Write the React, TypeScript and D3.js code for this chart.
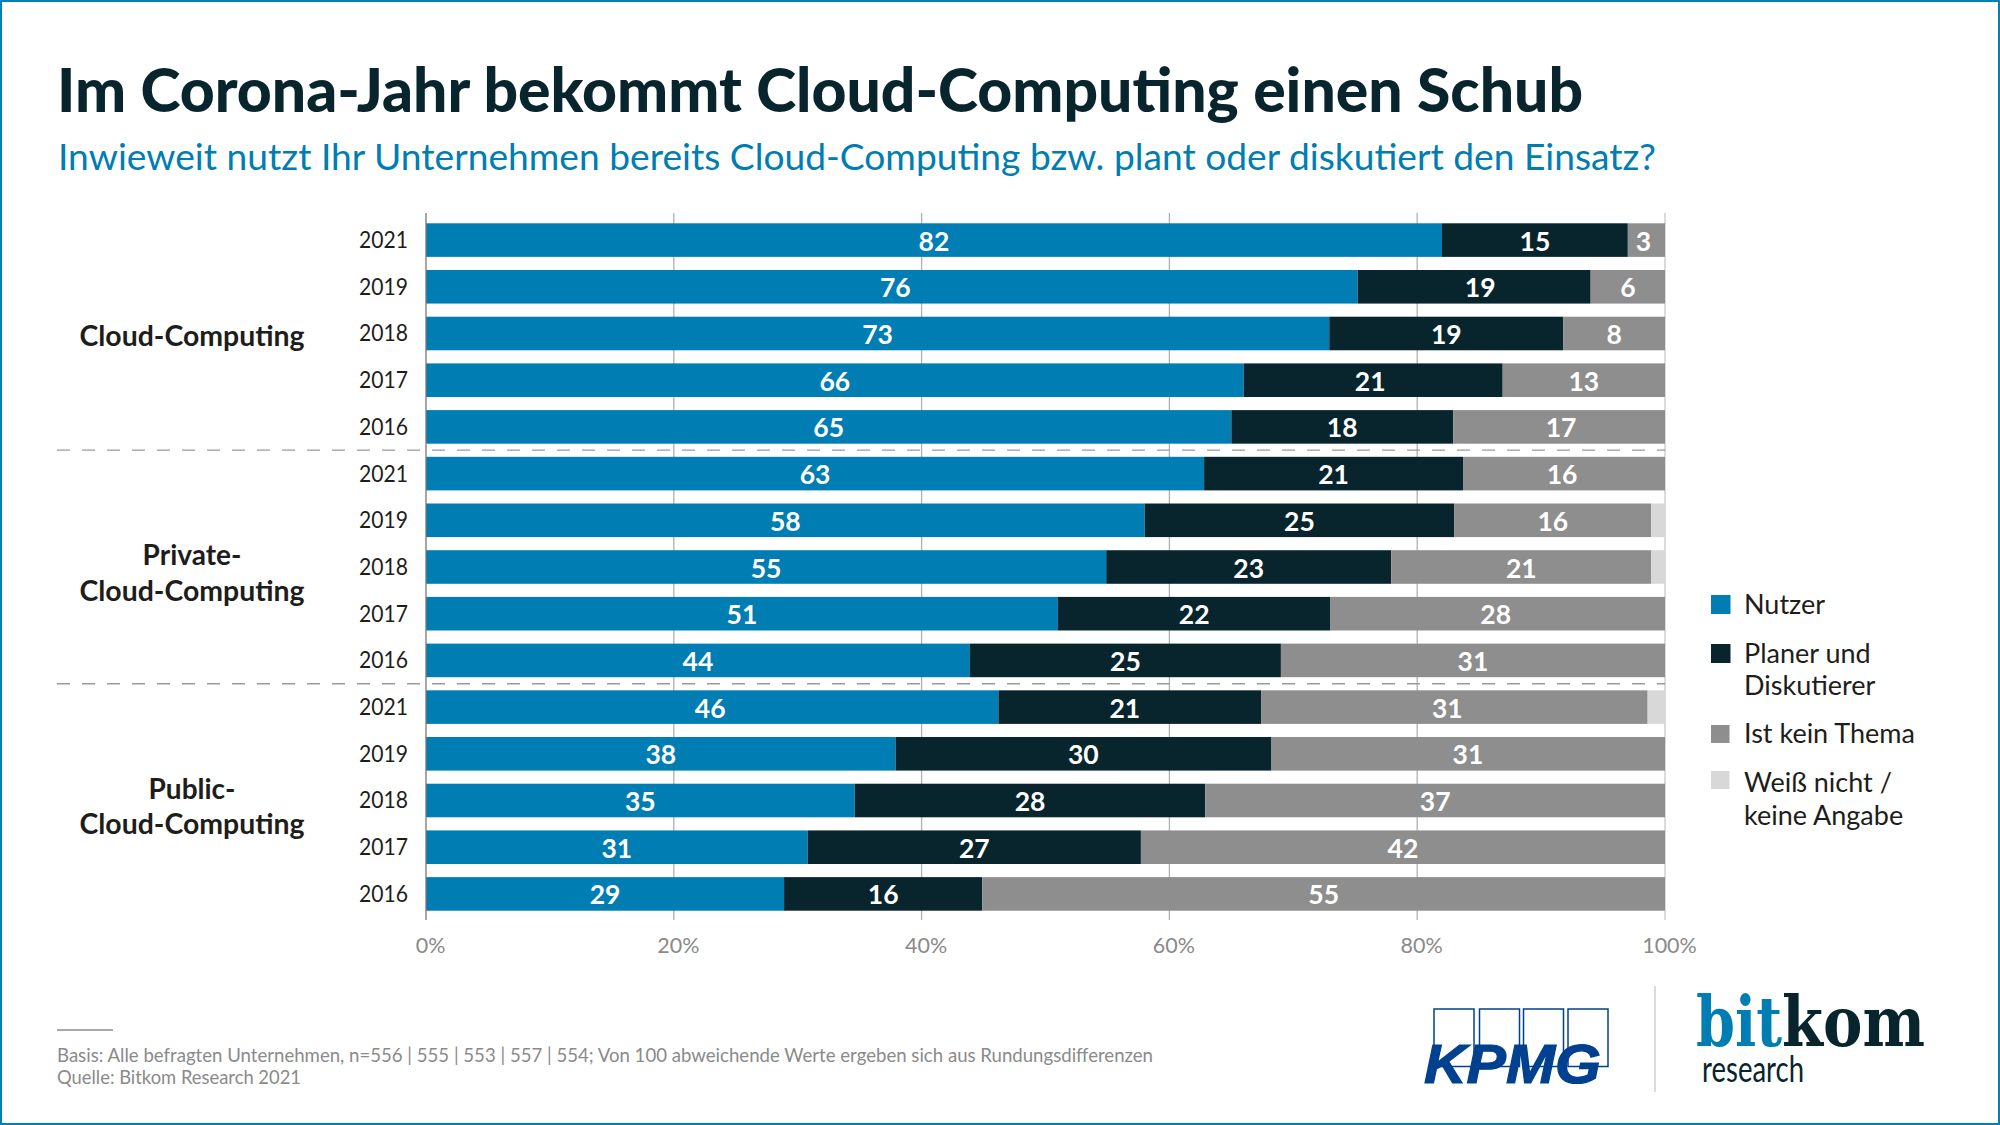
import React, { useEffect, useRef } from 'react';
import * as d3 from 'd3';

const title = 'Im Corona-Jahr bekommt Cloud-Computing einen Schub';
const subtitle = 'Inwieweit nutzt Ihr Unternehmen bereits Cloud-Computing bzw. plant oder diskutiert den Einsatz?';

const years = ['2021', '2019', '2018', '2017', '2016', '2021', '2019', '2018', '2017', '2016', '2021', '2019', '2018', '2017', '2016'];
const groups = [['Cloud-Computing'], ['Private-', 'Cloud-Computing'], ['Public-', 'Cloud-Computing']];

// bar lengths as measured in the picture (they differ a little from the printed numbers)
const nutzer = [82, 75.2, 72.9, 66, 65, 62.8, 58, 54.9, 51, 43.9, 46.2, 37.9, 34.6, 30.8, 28.9];
const planer = [15, 18.8, 18.9, 20.9, 17.9, 20.9, 25, 23, 22, 25.1, 21.2, 30.3, 28.3, 26.9, 16];
const keinThema = [3, 6, 8.2, 13.1, 17.1, 16.3, 15.9, 21, 27, 31, 31.2, 31.8, 37.1, 42.3, 55.1];
const weissNicht = [0, 0, 0, 0, 0, 0, 1.1, 1.1, 0, 0, 1.4, 0, 0, 0, 0];

// printed numbers
const nutzerLabels = [82, 76, 73, 66, 65, 63, 58, 55, 51, 44, 46, 38, 35, 31, 29];
const planerLabels = [15, 19, 19, 21, 18, 21, 25, 23, 22, 25, 21, 30, 28, 27, 16];
const keinThemaLabels = [3, 6, 8, 13, 17, 16, 16, 21, 28, 31, 31, 31, 37, 42, 55];

const seriesKeys = ['nutzer', 'planer', 'keinThema', 'weissNicht'];
const seriesColors = ['#007DB3', '#08252E', '#8E8E8E', '#D8D8D8'];
const labelsByKey: any = { nutzer: nutzerLabels, planer: planerLabels, keinThema: keinThemaLabels };
const ticks = [0, 20, 40, 60, 80, 100];

// a few printed numbers sit off the centre of their segment
const labelNudge: any = {
  'nutzer-1': 3.5, 'planer-1': 6, 'planer-3': -3, 'keinThema-0': -3, 'keinThema-4': 2, 'keinThema-5': -2,
  'keinThema-8': -2, 'nutzer-10': -2, 'planer-10': -5, 'keinThema-10': -7,
};

const legendItems = [
  { lines: ['Nutzer'], top: 595, size: 19, color: seriesColors[0], base: [614] },
  { lines: ['Planer und', 'Diskutierer'], top: 644, size: 19, color: seriesColors[1], base: [663, 695] },
  { lines: ['Ist kein Thema'], top: 725, size: 18, color: seriesColors[2], base: [743] },
  { lines: ['Weiß nicht /', 'keine Angabe'], top: 771, size: 18, color: seriesColors[3], base: [792, 825] },
];

const footer = [
  'Basis: Alle befragten Unternehmen, n=556 | 555 | 553 | 557 | 554; Von 100 abweichende Werte ergeben sich aus Rundungsdifferenzen',
  'Quelle: Bitkom Research 2021',
];

const font = 'Lato, "Noto Sans", sans-serif';

const App = () => {
  const ref = useRef<SVGSVGElement>(null);

  useEffect(() => {
    const svg = d3.select(ref.current);
    svg.selectAll('*').remove();

    const x = d3.scaleLinear().domain([0, 100]).range([426, 1665]);
    const y = d3.scaleBand<number>().domain(d3.range(years.length)).range([223.3, 910.7]).paddingInner(0.281);

    // frame
    svg.append('rect').attr('x', 1).attr('y', 1).attr('width', 1998).attr('height', 1123)
      .attr('fill', '#fff').attr('stroke', '#0080B8').attr('stroke-width', 2);

    const text = (str: string, tx: number, ty: number, size: number, fill: string, weight = 400, len?: number) => {
      const t = svg.append('text').attr('x', tx).attr('y', ty).attr('font-family', font)
        .attr('font-size', size).attr('font-weight', weight).attr('fill', fill).text(str);
      if (len) t.attr('textLength', len).attr('lengthAdjust', 'spacingAndGlyphs');
      return t;
    };

    text(title, 57, 112, 61, '#08252E', 900, 1526);
    text(subtitle, 58, 170, 36, '#007DB3', 400, 1598);

    // gridlines
    svg.append('g').selectAll('line').data(ticks.slice(1)).join('line')
      .attr('x1', d => x(d)).attr('x2', d => x(d)).attr('y1', 213).attr('y2', 920)
      .attr('stroke', d => (d === 100 ? '#C8C8C8' : '#B0B0B0')).attr('stroke-width', 1.3);

    // stacked bars
    const rows = years.map((_, i) => ({
      i, nutzer: nutzer[i], planer: planer[i], keinThema: keinThema[i], weissNicht: weissNicht[i],
    }));
    const stacked = d3.stack<any>().keys(seriesKeys)(rows);

    stacked.forEach((layer, k) => {
      svg.append('g').attr('fill', seriesColors[k]).selectAll('rect').data(layer).join('rect')
        .attr('x', d => x(d[0])).attr('width', d => x(d[1]) - x(d[0]))
        .attr('y', d => y(d.data.i)!).attr('height', y.bandwidth());

      const labels = labelsByKey[seriesKeys[k]];
      if (!labels) return;
      svg.append('g').selectAll('text').data(layer).join('text')
        .attr('x', (d: any) => x((d[0] + d[1]) / 2) + (labelNudge[`${seriesKeys[k]}-${d.data.i}`] || 0))
        .attr('y', d => y(d.data.i)! + y.bandwidth() / 2 + 10.5)
        .attr('text-anchor', 'middle').attr('font-family', font).attr('font-size', 26.5).attr('font-weight', 700)
        .attr('fill', '#fff').text((d: any) => labels[d.data.i]);
    });

    // y axis line
    svg.append('line').attr('x1', x(0)).attr('x2', x(0)).attr('y1', 213).attr('y2', 920)
      .attr('stroke', '#777').attr('stroke-width', 1.3);

    // years
    const yAxis = svg.append('g').attr('transform', 'translate(408,0.6)')
      .call(d3.axisLeft(y).tickSize(0).tickPadding(0).tickFormat((i: any) => years[i]));
    yAxis.select('.domain').remove();
    yAxis.selectAll('text').attr('font-family', font).attr('font-size', 23).attr('fill', '#1D1D1B')
      .attr('textLength', 49).attr('lengthAdjust', 'spacingAndGlyphs');

    // percent axis
    const xAxis = svg.append('g').attr('transform', 'translate(0,920)')
      .call(d3.axisBottom(x).tickValues(ticks).tickSize(0).tickPadding(0).tickFormat((d: any) => `${d}%`));
    xAxis.select('.domain').remove();
    xAxis.selectAll('text').attr('font-family', font).attr('font-size', 21.5).attr('fill', '#8A8A8A')
      .attr('dx', 4).attr('dy', 33);

    // separators between the groups
    [4, 9].forEach(i => {
      const sep = y(i)! + y.bandwidth() + y.step() * 0.14;
      svg.append('line').attr('x1', 57).attr('x2', 1665).attr('y1', sep).attr('y2', sep)
        .attr('stroke', '#9A9A9A').attr('stroke-width', 1.3).attr('stroke-dasharray', '13 12');
    });

    // group names, centred on their five rows
    groups.forEach((lines, g) => {
      const mid = y(g * 5 + 2)! + y.bandwidth() / 2;
      lines.forEach((l, j) => {
        const base = lines.length > 1 ? mid + 16 + (j - 0.5) * 35.5 : mid + 12.5;
        text(l, 192, base, 28, '#1D1D1B', 700, l.length > 10 ? 225 : undefined).attr('text-anchor', 'middle');
      });
    });

    // legend
    legendItems.forEach(item => {
      svg.append('rect').attr('x', 1711).attr('y', item.top).attr('width', item.size + 0.5).attr('height', item.size)
        .attr('fill', item.color);
      item.lines.forEach((l, j) => text(l, 1744, item.base[j], 27, '#1D1D1B'));
    });

    // footer
    svg.append('line').attr('x1', 57).attr('x2', 113).attr('y1', 1030).attr('y2', 1030)
      .attr('stroke', '#A8A8A8').attr('stroke-width', 2);
    text(footer[0], 57, 1062, 19, '#8A8A8A', 400, 1096);
    text(footer[1], 57, 1084, 19, '#8A8A8A', 400, 244);

    // KPMG logo
    const blue = '#00418F';
    [1434, 1479.5, 1523.5, 1568].forEach(bx => {
      svg.append('rect').attr('x', bx).attr('y', 1009).attr('width', 40).attr('height', 57.5)
        .attr('fill', 'none').attr('stroke', blue).attr('stroke-width', 1.5);
    });
    svg.append('text').attr('x', 1424).attr('y', 1083).attr('font-family', '"Liberation Sans", Arial, sans-serif')
      .attr('font-size', 56).attr('font-weight', 700).attr('font-style', 'italic').attr('fill', blue)
      .attr('stroke', blue).attr('stroke-width', 1.2)
      .attr('textLength', 177).attr('lengthAdjust', 'spacingAndGlyphs').text('KPMG');

    // divider between logos
    svg.append('line').attr('x1', 1655).attr('x2', 1655).attr('y1', 986).attr('y2', 1092)
      .attr('stroke', '#C8C8C8').attr('stroke-width', 1.3);

    // bitkom logo
    const slab = '"DejaVu Serif", serif';
    svg.append('text').attr('x', 1696).attr('y', 1046).attr('font-family', slab).attr('font-size', 70)
      .attr('font-weight', 700).attr('fill', '#007DB3').attr('textLength', 86).attr('lengthAdjust', 'spacingAndGlyphs').text('bit');
    svg.append('text').attr('x', 1782).attr('y', 1046).attr('font-family', slab).attr('font-size', 70)
      .attr('font-weight', 700).attr('fill', '#08252E').attr('textLength', 143).attr('lengthAdjust', 'spacingAndGlyphs').text('kom');
    text('research', 1702, 1082, 36, '#08252E', 400, 102);
  }, []);

  return <svg ref={ref} width={2000} height={1125} style={{ display: 'block', position: 'absolute', left: 0, top: 0 }} />;
};

export default App;
